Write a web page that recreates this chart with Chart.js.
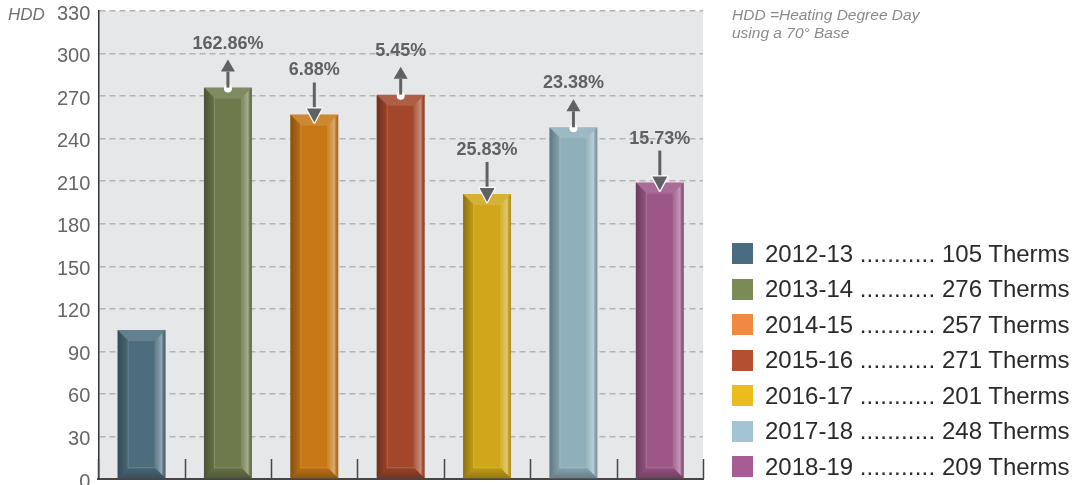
<!DOCTYPE html>
<html>
<head>
<meta charset="utf-8">
<script src="https://cdn.jsdelivr.net/npm/chart.js@4.4.1/dist/chart.umd.min.js"></script>
<style>
  html, body { margin: 0; padding: 0; background: #fff; overflow: hidden; }
  body { width: 1076px; height: 485px; position: relative; font-family: "Liberation Sans", Arial, sans-serif; }
  #wrap { position: absolute; left: 0; top: -8px; width: 1076px; height: 506px; }
  #hdd { position: absolute; left: 8px; top: 5px; font-size: 17px; font-style: italic; color: #6f6f6f; }
  #note { position: absolute; left: 732px; top: 6px; font-size: 15.5px; line-height: 18px; font-style: italic; color: #8a8a8a; }
  #legend { position: absolute; left: 732px; top: 243px; }
  .row { display: flex; align-items: center; height: 21px; margin-bottom: 14.5px; }
  .sw { width: 21px; height: 21px; margin-right: 12px; }
  .txt { font-size: 24px; color: #2a2a2a; white-space: pre; }
  .dots { letter-spacing: 0.2px; }
</style>
</head>
<body>
<div id="wrap"><canvas id="hddChart"></canvas></div>
<div id="hdd">HDD</div>
<div id="note">HDD =Heating Degree Day<br>using a 70° Base</div>
<div id="legend"></div>
<script>
const seasons = ["2012-13", "2013-14", "2014-15", "2015-16", "2016-17", "2017-18", "2018-19"];
const hddValues = [105, 276, 257, 271, 201, 248, 209];
const changeLabels = [null, "162.86%", "6.88%", "5.45%", "25.83%", "23.38%", "15.73%"];
const barColors = ["#4d6d7e", "#6d7a4b", "#c77716", "#a3472b", "#cfa718", "#8fafbb", "#9d5787"];
const legendColors = ["#4a6c80", "#7b8b55", "#f08a42", "#b35030", "#ebbc1e", "#a2c4d4", "#a85c94"];
const yMin = 0, yMax = 330, yStep = 30;

const font = '"Liberation Sans", Arial, sans-serif';

// legend (html text)
const legendEl = document.getElementById("legend");
seasons.forEach((s, i) => {
  const row = document.createElement("div");
  row.className = "row";
  row.innerHTML = `<div class="sw" style="background:${legendColors[i]}"></div>` +
    `<span class="txt">${s} <span class="dots">...........</span> ${hddValues[i]} Therms</span>`;
  legendEl.appendChild(row);
});

// plot background + boundary tick marks
const plotFrame = {
  id: "plotFrame",
  beforeDraw(chart) {
    const { ctx, chartArea: a } = chart;
    ctx.save();
    ctx.fillStyle = "#e6e7e9";
    ctx.fillRect(a.left, a.top, a.right - a.left, a.bottom - a.top);
    ctx.restore();
  },
  afterDraw(chart) {
    const { ctx, chartArea: a } = chart;
    const xs = chart.scales.x;
    ctx.save();
    ctx.strokeStyle = "#444";
    ctx.lineWidth = 1.5;
    for (let i = 0; i <= seasons.length; i++) {
      const x = Math.round(xs.getPixelForValue(i - 0.5)) + 0.5;
      ctx.beginPath();
      ctx.moveTo(x, a.bottom);
      ctx.lineTo(x, a.bottom - 20);
      ctx.stroke();
    }
    ctx.restore();
  }
};

// bevelled look on each bar
const bevel = {
  id: "bevel",
  afterDatasetsDraw(chart) {
    const { ctx } = chart;
    const meta = chart.getDatasetMeta(0);
    const b = 10;
    ctx.save();
    meta.data.forEach((el) => {
      const p = el.getProps(["x", "y", "width", "base"], true);
      const l = p.x - p.width / 2, r = p.x + p.width / 2, t = p.y, bot = p.base;
      const poly = (pts, fill) => {
        ctx.beginPath();
        ctx.moveTo(pts[0][0], pts[0][1]);
        for (let k = 1; k < pts.length; k++) ctx.lineTo(pts[k][0], pts[k][1]);
        ctx.closePath();
        ctx.fillStyle = fill;
        ctx.fill();
      };
      poly([[l, t], [r, t], [r - b, t + b], [l + b, t + b]], "rgba(255,255,255,0.13)");
      let g = ctx.createLinearGradient(l, 0, l + b, 0);
      g.addColorStop(0, "rgba(0,0,0,0.32)");
      g.addColorStop(1, "rgba(0,0,0,0.08)");
      poly([[l, t], [l + b, t + b], [l + b, bot - b], [l, bot]], g);
      g = ctx.createLinearGradient(r - b, 0, r, 0);
      g.addColorStop(0, "rgba(255,255,255,0.12)");
      g.addColorStop(0.6, "rgba(255,255,255,0.38)");
      g.addColorStop(1, "rgba(0,0,0,0.12)");
      poly([[r, t], [r, bot], [r - b, bot - b], [r - b, t + b]], g);
      g = ctx.createLinearGradient(0, bot - b, 0, bot);
      g.addColorStop(0, "rgba(0,0,0,0.08)");
      g.addColorStop(1, "rgba(0,0,0,0.28)");
      poly([[l, bot], [r, bot], [r - b, bot - b], [l + b, bot - b]], g);
      ctx.strokeStyle = "rgba(255,255,255,0.15)";
      ctx.lineWidth = 1;
      ctx.strokeRect(l + b + 0.5, t + b + 0.5, p.width - 2 * b - 1, bot - t - 2 * b - 1);
    });
    ctx.restore();
  }
};

// change arrows with percentage labels
const changeArrows = {
  id: "changeArrows",
  afterDatasetsDraw(chart) {
    const { ctx } = chart;
    const meta = chart.getDatasetMeta(0);
    const grey = "#606162";
    ctx.save();
    ctx.font = `bold 18px ${font}`;
    ctx.textAlign = "center";
    ctx.textBaseline = "middle";
    meta.data.forEach((el, i) => {
      if (!changeLabels[i]) return;
      const up = hddValues[i] > hddValues[i - 1];
      const x = el.x, top = el.y;
      const labelY = top - 44;
      ctx.fillStyle = grey;
      ctx.fillText(changeLabels[i], x, labelY);
      if (up) {
        const tip = labelY + 16, headBase = tip + 12;
        ctx.fillStyle = "#fff";
        ctx.beginPath();
        ctx.arc(x, top + 1, 4, 0, Math.PI * 2);
        ctx.fill();
        ctx.strokeStyle = grey;
        ctx.lineWidth = 3;
        ctx.beginPath();
        ctx.moveTo(x, headBase);
        ctx.lineTo(x, top);
        ctx.stroke();
        ctx.fillStyle = grey;
        ctx.beginPath();
        ctx.moveTo(x, tip);
        ctx.lineTo(x + 7, headBase);
        ctx.lineTo(x - 7, headBase);
        ctx.closePath();
        ctx.fill();
      } else {
        const start = labelY + 12, tip = top + 8, headBase = tip - 14;
        ctx.strokeStyle = grey;
        ctx.lineWidth = 3;
        ctx.beginPath();
        ctx.moveTo(x, start);
        ctx.lineTo(x, headBase + 1);
        ctx.stroke();
        ctx.beginPath();
        ctx.moveTo(x, tip);
        ctx.lineTo(x + 7.5, headBase);
        ctx.lineTo(x - 7.5, headBase);
        ctx.closePath();
        ctx.strokeStyle = "#fff";
        ctx.lineWidth = 2.5;
        ctx.lineJoin = "round";
        ctx.stroke();
        ctx.fillStyle = grey;
        ctx.fill();
      }
    });
    ctx.restore();
  }
};

new Chart(document.getElementById("hddChart"), {
  type: "bar",
  data: {
    labels: seasons,
    datasets: [{
      data: hddValues,
      backgroundColor: barColors,
      borderWidth: 0,
      barPercentage: 0.555,
      categoryPercentage: 1
    }]
  },
  options: {
    responsive: true,
    maintainAspectRatio: false,
    animation: false,
    layout: { padding: { top: 0, right: 373, bottom: 0, left: 49 } },
    plugins: { legend: { display: false }, tooltip: { enabled: false } },
    scales: {
      x: {
        offset: true,
        grid: { display: false },
        border: { color: "#454545", width: 2 },
        ticks: { display: false }
      },
      y: {
        min: yMin,
        max: yMax,
        grid: { color: "#b4b4b4", lineWidth: 1.5, drawTicks: false },
        border: { color: "#333", width: 1.5, dash: [6, 4] },
        ticks: {
          stepSize: yStep,
          color: "#666",
          padding: 8,
          labelOffset: 3,
          font: { family: font, size: 20, lineHeight: 1.1 }
        }
      }
    }
  },
  plugins: [plotFrame, bevel, changeArrows]
});
</script>
</body>
</html>
